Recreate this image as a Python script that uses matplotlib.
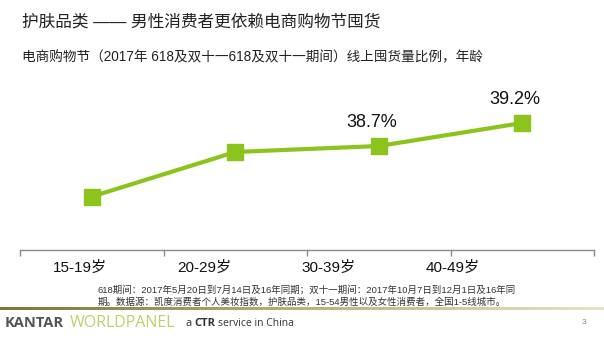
import numpy as np
import matplotlib
matplotlib.use("Agg")
import matplotlib.pyplot as plt
from matplotlib.colors import LinearSegmentedColormap

plt.rcParams['font.family'] = ['Liberation Sans', 'Noto Sans CJK SC', 'DejaVu Sans']

categories = ["15-19岁", "20-29岁", "30-39岁", "40-49岁"]
values = [37.6, 38.57, 38.7, 39.2]
labels = ["", "", "38.7%", "39.2%"]

title = "护肤品类 —— 男性消费者更依赖电商购物节囤货"
subtitle = "电商购物节（2017年 618及双十一618及双十一期间）线上囤货量比例，年龄"
footnote1 = "618期间：2017年5月20日到7月14日及16年同期；双十一期间：2017年10月7日到12月1日及16年同"
footnote2 = "期。数据源：凯度消费者个人美妆指数，护肤品类，15-54男性以及女性消费者，全国1-5线城市。"

W, H = 604, 340
fig = plt.figure(figsize=(W / 100, H / 100), dpi=100)
fig.patch.set_facecolor("white")

green = "#8CC41E"
ax = fig.add_axes([20 / W, (H - 250) / H, 574 / W, 150 / H])
x = np.arange(len(categories))
ax.plot(x, values, color=green, lw=3.0, marker="s", ms=11.5,
        markerfacecolor=green, markeredgecolor=green, zorder=3)
for xi, v, lab in zip(x, values, labels):
    if lab:
        ax.annotate(lab, (xi, v), xytext=(-5, 11), textcoords="offset points",
                    ha="center", va="bottom", fontsize=13, color="#111111")

ax.set_xlim(-0.5, 3.5)
ax.set_ylim(36.44, 39.7)
for s in ["top", "right", "left"]:
    ax.spines[s].set_visible(False)
ax.spines["bottom"].set_color("#8a8a8a")
ax.spines["bottom"].set_linewidth(1.0)
ax.set_yticks([])
ax.set_xticks(np.arange(len(categories) + 1) - 0.5)
ax.set_xticklabels([])
ax.tick_params(axis="x", direction="out", length=4, color="#8a8a8a", width=1)
ax.patch.set_alpha(0)

for i, c in enumerate(categories):
    ax.text(-0.08 + 0.865 * i, -0.07, c, transform=ax.get_xaxis_transform(),
            ha="center", va="top", fontsize=11, color="#111111")

fig.text(22 / W, 1 - 22 / H, title, fontsize=12, color="#222222", va="center", ha="left")
fig.text(22 / W, 1 - 57 / H, subtitle, fontsize=9.8, color="#222222", va="center", ha="left")

fig.text(98 / W, 1 - 290 / H, footnote1, fontsize=6.8, color="#333333", va="center", ha="left")
fig.text(98 / W, 1 - 302 / H, footnote2, fontsize=6.8, color="#333333", va="center", ha="left")

# gradient rule
gax = fig.add_axes([0, (H - 310) / H, 1, 3 / H])
cmap = LinearSegmentedColormap.from_list("g", ["#7d7440", "#b9b27a", "#e6e3c4"])
gax.imshow(np.linspace(0, 1, 256)[None, :], aspect="auto", cmap=cmap)
gax.axis("off")

fig.text(5 / W, 1 - 323 / H, "KANTAR", fontsize=10.5, color="#555555",
         fontweight="bold", va="center", ha="left", family="Open Sans")
fig.text(70 / W, 1 - 323 / H, "WORLDPANEL", fontsize=11.5, color="#b9d36a",
         va="center", ha="left", family="Open Sans")
fig.text(185 / W, 1 - 323 / H, "a", fontsize=8, color="#333333", va="center", ha="left",
         family="Open Sans")
fig.text(194 / W, 1 - 323 / H, "CTR", fontsize=8, color="#333333", fontweight="bold",
         va="center", ha="left", family="Open Sans")
fig.text(218 / W, 1 - 323 / H, "service in China", fontsize=7.5, color="#333333",
         va="center", ha="left", family="Open Sans")
fig.text(584 / W, 1 - 322 / H, "3", fontsize=6, color="#888888", va="center", ha="center")

fig.savefig("out.png", dpi=100, facecolor="white")
